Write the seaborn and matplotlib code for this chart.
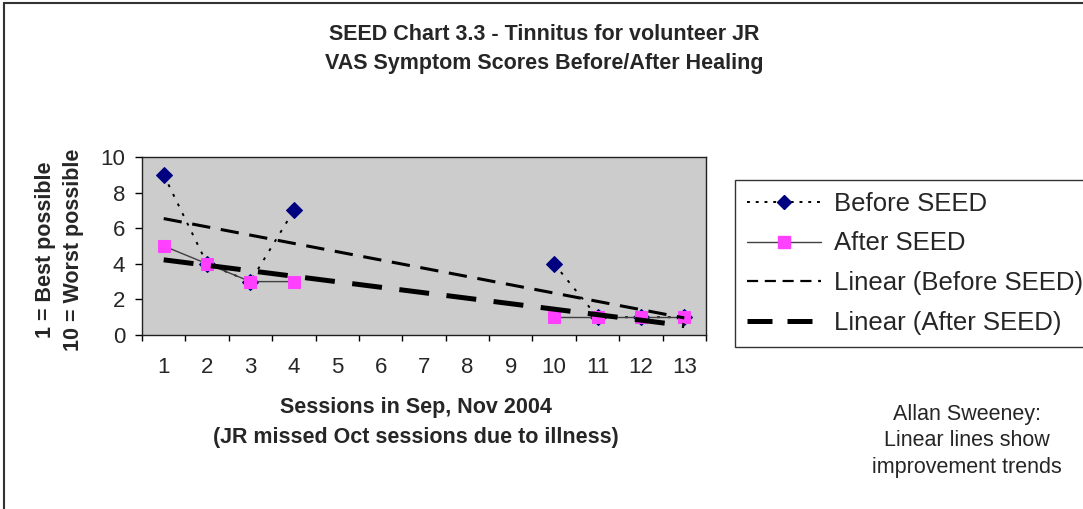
import numpy as np
import pandas as pd
import matplotlib
matplotlib.use('Agg')
import matplotlib.pyplot as plt
from matplotlib.lines import Line2D
from matplotlib.patches import Rectangle
import seaborn as sns

# ============================================================
# DATA
# ============================================================
sessions = [1, 2, 3, 4, 5, 6, 7, 8, 9, 10, 11, 12, 13]
before_seed = [9, 4, 3, 7, np.nan, np.nan, np.nan, np.nan, np.nan, 4, 1, 1, 1]
after_seed = [5, 4, 3, 3, np.nan, np.nan, np.nan, np.nan, np.nan, 1, 1, 1, 1]
y_ticks = [0, 2, 4, 6, 8, 10]

sns.set_theme(style='white')
plt.rcParams['font.family'] = ['Liberation Sans', 'DejaVu Sans']


def segments(values, name):
    # split at the missing sessions so the line has a gap
    d = pd.DataFrame({'session': sessions, 'score': values})
    d['segment'] = d['score'].isna().cumsum()
    d['series'] = name
    return d.dropna()


def trend(values):
    # linear trendline like Excel, fitted on category positions
    d = pd.DataFrame({'session': sessions, 'score': values}).dropna()
    slope, icpt = np.polyfit(d['session'], d['score'], 1)
    xs = np.array([sessions[0], sessions[-1]])
    return pd.DataFrame({'session': xs, 'score': slope * xs + icpt})


before_df = segments(before_seed, 'Before SEED')
after_df = segments(after_seed, 'After SEED')
trend_before = trend(before_seed)
trend_after = trend(after_seed)

fig = plt.figure(figsize=(10.83, 5.09), dpi=100)
ax = fig.add_axes([142 / 1083, 1 - 335 / 509, (706 - 142) / 1083, (335 - 157) / 509])
ax.set_facecolor('#CCCCCC')

sns.lineplot(data=before_df, x='session', y='score', units='segment', estimator=None,
             color='black', linestyle=(0, (1.5, 4)), linewidth=1.4, marker='D',
             markersize=8, markerfacecolor='#000080', markeredgecolor='#000080',
             legend=False, ax=ax, zorder=3)
sns.lineplot(data=after_df, x='session', y='score', units='segment', estimator=None,
             color='#404040', linewidth=1.0, marker='s', markersize=9,
             markerfacecolor='#FF40FF', markeredgecolor='#FF40FF',
             legend=False, ax=ax, zorder=4)
sns.lineplot(data=trend_before, x='session', y='score', color='black',
             linestyle=(0, (6, 3.5)), linewidth=2.2, legend=False, ax=ax, zorder=5)
sns.lineplot(data=trend_after, x='session', y='score', color='black',
             linestyle=(0, (6, 3.5)), linewidth=3.6, legend=False, ax=ax, zorder=6)

ax.set_xlim(0.5, len(sessions) + 0.5)
ax.set_ylim(0, 10)
ax.set_xticks(sessions)
ax.set_xticklabels([str(s) for s in sessions], fontsize=16)
ax.set_xticks(np.arange(0.5, len(sessions) + 1, 1), minor=True)
ax.set_yticks(y_ticks)
ax.set_yticklabels([str(v) for v in y_ticks], fontsize=16)
ax.tick_params(axis='x', which='major', length=0, pad=16)
ax.tick_params(axis='x', which='minor', length=4.5, width=1, color='black', direction='out', bottom=True)
ax.tick_params(axis='y', length=5, width=1, color='black', direction='out', left=True, pad=7)
ax.set_xlabel('')
ax.set_ylabel('')
for side in ['left', 'bottom', 'top', 'right']:
    ax.spines[side].set_visible(True)
    ax.spines[side].set_color('#202020')
    ax.spines[side].set_linewidth(1.0)

# titles and axis labels
fig.text(544 / 1083, 1 - 34 / 509, 'SEED Chart 3.3 - Tinnitus for volunteer JR',
         ha='center', va='center', fontsize=15.5, fontweight='bold')
fig.text(544 / 1083, 1 - 64 / 509, 'VAS Symptom Scores Before/After Healing',
         ha='center', va='center', fontsize=15.5, fontweight='bold')
fig.text(416 / 1083, 1 - 408 / 509, 'Sessions in Sep, Nov 2004',
         ha='center', va='center', fontsize=15.5, fontweight='bold')
fig.text(416 / 1083, 1 - 437 / 509, '(JR missed Oct sessions due to illness)',
         ha='center', va='center', fontsize=15.5, fontweight='bold')
fig.text(46 / 1083, 1 - 250 / 509, '1 = Best possible', rotation=90,
         ha='center', va='center', fontsize=15.5, fontweight='bold')
fig.text(74 / 1083, 1 - 250 / 509, '10 = Worst possible', rotation=90,
         ha='center', va='center', fontsize=15.5, fontweight='bold')
fig.text(967 / 1083, 1 - 441 / 509,
         'Allan Sweeney:\nLinear lines show\nimprovement trends',
         ha='center', va='center', fontsize=15.5, linespacing=1.35)

# legend
handles = [
    Line2D([], [], color='black', linestyle=(0, (1.5, 3)), linewidth=1.4, marker='D',
           markersize=7, markerfacecolor='#000080', markeredgecolor='#000080'),
    Line2D([], [], color='#404040', linewidth=1.0, marker='s', markersize=9,
           markerfacecolor='#FF40FF', markeredgecolor='#FF40FF'),
    Line2D([], [], color='black', linestyle=(0, (5, 3)), linewidth=1.6),
    Line2D([], [], color='black', linestyle=(0, (5, 3)), linewidth=3.6),
]
labels = ['Before SEED', 'After SEED', 'Linear (Before SEED)', 'Linear (After SEED)']
leg = fig.legend(handles, labels, loc='upper left',
                 bbox_to_anchor=(735 / 1083, 1 - 180 / 509), borderaxespad=0,
                 fontsize=18.5, frameon=True, fancybox=False, edgecolor='black',
                 handlelength=2.9, handletextpad=0.5, labelspacing=0.62,
                 borderpad=0.45)
leg.get_frame().set_linewidth(1.0)

# outer chart border
fig.add_artist(Rectangle((4 / 1083, -0.05), 1.2, 1 - 3 / 509 + 0.05,
                         transform=fig.transFigure, fill=False,
                         edgecolor='#333333', linewidth=1.5))

fig.savefig('out.png', dpi=100)
